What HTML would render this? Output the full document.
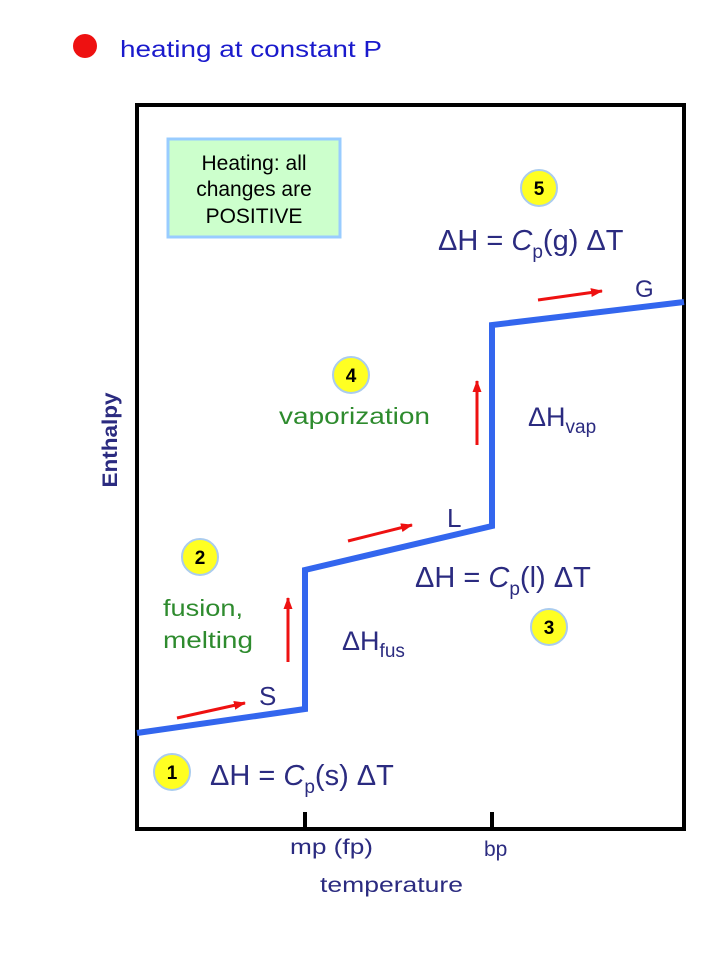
<!DOCTYPE html>
<html><head><meta charset="utf-8"><style>body{margin:0;background:#fff}svg{display:block}</style></head><body>
<svg width="720" height="960" viewBox="0 0 720 960" xmlns="http://www.w3.org/2000/svg" font-family="Liberation Sans, sans-serif">
<defs><marker id="a" markerWidth="12" markerHeight="9" refX="11" refY="4.5" orient="auto" markerUnits="userSpaceOnUse"><path d="M0,0 L12,4.5 L0,9 Z" fill="#ee1111"/></marker></defs>
<circle cx="85" cy="46" r="12" fill="#ee1111"/>
<text x="120" y="57" font-size="23" fill="#1a1acc" textLength="262" lengthAdjust="spacingAndGlyphs">heating at constant P</text>
<rect x="137" y="105" width="547" height="724" fill="#fff" stroke="#000" stroke-width="4"/>
<line x1="305" y1="812" x2="305" y2="829" stroke="#000" stroke-width="4"/>
<line x1="492" y1="812" x2="492" y2="829" stroke="#000" stroke-width="4"/>
<rect x="168" y="139" width="172" height="98" fill="#ccffcc" stroke="#99ccff" stroke-width="3"/>
<g font-size="21" fill="#000" text-anchor="middle"><text x="254" y="170">Heating: all</text><text x="254" y="196">changes are</text><text x="254" y="223">POSITIVE</text></g>
<polyline points="137,733 305,709 305,570 492,526 492,325 684,302" fill="none" stroke="#3366ee" stroke-width="6"/>
<g stroke="#ee1111" stroke-width="3" marker-end="url(#a)">
<line x1="177" y1="718" x2="245" y2="703"/><line x1="288" y1="662" x2="288" y2="598"/>
<line x1="348" y1="541" x2="412" y2="525"/><line x1="477" y1="445" x2="477" y2="381"/>
<line x1="538" y1="300" x2="602" y2="291"/></g>
<g fill="#ffff22" stroke="#aaccee" stroke-width="2">
<circle cx="172" cy="772" r="18"/><circle cx="200" cy="557" r="18"/><circle cx="549" cy="627" r="18"/><circle cx="351" cy="375" r="18"/><circle cx="539" cy="188" r="18"/></g>
<g font-size="19" font-weight="bold" text-anchor="middle" fill="#000">
<text x="172" y="779">1</text><text x="200" y="564">2</text><text x="549" y="634">3</text><text x="351" y="382">4</text><text x="539" y="195">5</text></g>
<g fill="#2b2b80" font-size="29">
<text x="210" y="785">ΔH = <tspan font-style="italic">C</tspan><tspan font-size="19" dy="8">p</tspan><tspan dy="-8">(s) ΔT</tspan></text>
<text x="415" y="587">ΔH = <tspan font-style="italic">C</tspan><tspan font-size="19" dy="8">p</tspan><tspan dy="-8">(l) ΔT</tspan></text>
<text x="438" y="250">ΔH = <tspan font-style="italic">C</tspan><tspan font-size="19" dy="8">p</tspan><tspan dy="-8">(g) ΔT</tspan></text>
<text x="342" y="650" font-size="27">ΔH<tspan font-size="19" dy="7">fus</tspan></text>
<text x="528" y="426" font-size="27">ΔH<tspan font-size="19" dy="7">vap</tspan></text>
<text x="259" y="705" font-size="26">S</text><text x="447" y="527" font-size="26">L</text><text x="635" y="297" font-size="24">G</text>
</g>
<g fill="#2e8b2e" font-size="23"><text x="163" y="616" textLength="80" lengthAdjust="spacingAndGlyphs">fusion,</text><text x="163" y="648" textLength="90" lengthAdjust="spacingAndGlyphs">melting</text><text x="279" y="424" textLength="151" lengthAdjust="spacingAndGlyphs">vaporization</text></g>
<g fill="#2b2b80" font-size="21">
<text x="117" y="440" text-anchor="middle" font-weight="bold" transform="rotate(-90 117 440)" textLength="95" lengthAdjust="spacingAndGlyphs">Enthalpy</text>
<text x="290" y="854" textLength="83" lengthAdjust="spacingAndGlyphs">mp (fp)</text><text x="484" y="856">bp</text><text x="320" y="892" textLength="143" lengthAdjust="spacingAndGlyphs">temperature</text></g>
</svg>
</body></html>
